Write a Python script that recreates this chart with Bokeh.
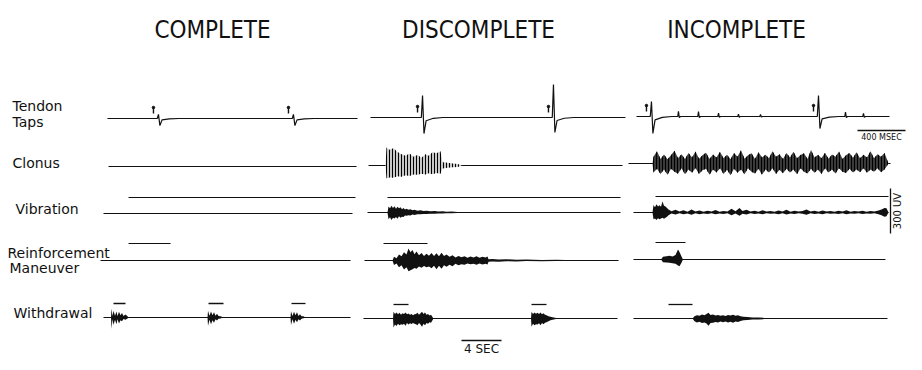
import math
from bokeh.plotting import figure
from bokeh.models import Range1d, Label
from bokeh.embed import file_html
from bokeh.resources import INLINE

# ------------------------------------------------------------------ data
COLUMNS = ["COMPLETE", "DISCOMPLETE", "INCOMPLETE"]
ROW_LABELS = [["Tendon", "Taps"], ["Clonus"], ["Vibration"],
              ["Reinforcement", "Maneuver"], ["Withdrawal"]]

# Tendon taps (fast sweep: ms / microvolts)
TAP_TRACE_MS = [(8, 2092), (33, 2158), (33, 2142)]
TAP_TIMES_MS = [[433, 1558], [467, 1558], [158, 1550]]
TAP_UP_UV = [[27, 27], [147, 220], [100, 140]]
TAP_DOWN_UV = [[47, 47], [107, 100], [113, 80]]
REFLEX_TIMES_MS = [383, 550, 717, 883, 1067, 1775, 1925]
REFLEX_UP_UV = [35, 33, 22, 15, 13, 30, 20]
REFLEX_DOWN_UV = [8, 8, 6, 5, 4, 8, 6]

# Slow sweep rows (seconds / microvolts)
CLONUS_TRACE_S = [(0.2, 25.0), (0.2, 25.6), (-0.4, 25.8)]
VIB_TRACE_S = [(-0.3, 24.6), (0.1, 25.4), (0.1, 25.6)]
VIB_STIM_S = [(2.2, 24.9), (2.1, 25.4), (2.3, 25.6)]
REIN_TRACE_S = [(-0.6, 24.4), (-0.2, 25.2), (0.1, 25.3)]
REIN_STIM_S = [(2.2, 6.4), (1.7, 6.1), (2.3, 5.3)]
WD_TRACE_S = [(-0.3, 24.4), (-0.3, 25.1), (0.1, 25.5)]
WD_STIM_S = [[(0.7, 1.9), (10.2, 11.7), (18.5, 19.9)],
             [(2.7, 4.2), (16.5, 18.0)],
             [(3.6, 6.0)]]

CLONUS2_T = [1.9, 2.0, 2.3, 2.7, 3.1, 3.5, 3.9, 4.3, 4.7, 5.1, 5.5, 5.9, 6.2, 6.6, 7.0, 7.4, 7.6, 8.1, 8.6, 9.1, 9.6]
CLONUS2_UP = [0, 120, 105, 115, 90, 75, 65, 80, 58, 70, 52, 75, 65, 88, 82, 95, 22, 18, 14, 10, 0]
CLONUS2_DN = [0, 85, 80, 82, 72, 75, 65, 70, 60, 62, 55, 60, 52, 58, 50, 55, 20, 15, 12, 10, 0]

CLONUS3_T = [2.0, 2.1, 2.45, 2.8, 3.15, 3.5, 3.85, 4.2, 4.55, 4.9,
             5.25, 5.6, 5.95, 6.3, 6.65, 7.0, 7.35, 7.7, 8.05, 8.4,
             8.75, 9.1, 9.45, 9.8, 10.15, 10.5, 10.85, 11.2, 11.55, 11.9,
             12.25, 12.6, 12.95, 13.3, 13.65, 14.0, 14.35, 14.7, 15.05, 15.4,
             15.75, 16.1, 16.45, 16.8, 17.15, 17.5, 17.85, 18.2, 18.55, 18.9,
             19.25, 19.6, 19.95, 20.3, 20.65, 21.0, 21.35, 21.7, 22.05, 22.4,
             22.75, 23.1, 23.45, 23.8, 24.15, 24.5, 24.85, 25.2, 25.6]
CLONUS3_UP = [0, 45, 82, 30, 60, 28, 55, 85, 35, 62,
              30, 70, 40, 80, 32, 55, 72, 30, 60, 40,
              78, 35, 58, 28, 70, 45, 88, 32, 55, 68,
              30, 75, 40, 58, 35, 82, 45, 62, 30, 70,
              40, 78, 35, 56, 68, 30, 90, 40, 58, 35,
              72, 32, 60, 45, 80, 30, 55, 70, 38, 75,
              35, 58, 40, 82, 35, 62, 45, 70, 0]
CLONUS3_DN = [0, 60, 35, 70, 40, 75, 35, 55, 68, 32,
              72, 40, 62, 30, 70, 45, 35, 75, 40, 60,
              32, 70, 42, 78, 35, 62, 40, 72, 32, 55,
              66, 35, 75, 40, 60, 32, 70, 42, 65, 35,
              60, 40, 72, 32, 55, 66, 35, 62, 40, 70,
              32, 60, 40, 66, 32, 55, 64, 35, 60, 40,
              58, 32, 62, 40, 55, 32, 58, 40, 0]

VIB2_T = [2.1, 2.2, 2.35, 2.5, 2.65, 2.8, 2.95, 3.1, 3.25, 3.4,
          3.55, 3.7, 3.85, 4.0, 4.2, 4.4, 4.6, 4.8, 5.1, 5.4,
          5.7, 6.0, 6.4, 6.8, 7.2, 7.6, 8.0, 8.5, 9.1, 9.9]
VIB2_UP = [0, 40, 28, 45, 30, 42, 25, 38, 28, 35,
           22, 30, 20, 25, 18, 22, 15, 18, 12, 15,
           10, 12, 8, 10, 6, 8, 5, 6, 4, 0]
VIB2_DN = [0, 45, 32, 50, 35, 40, 30, 42, 25, 35,
           28, 30, 20, 22, 18, 20, 14, 16, 12, 12,
           10, 10, 8, 8, 6, 6, 5, 5, 4, 0]

VIB3_T = [2.0, 2.1, 2.25, 2.4, 2.55, 2.7, 2.85, 3.0, 3.15, 3.3, 3.45, 3.6,
          3.9, 4.3, 4.7, 5.1, 5.5, 5.9, 6.3, 6.7, 7.1, 7.5,
          7.9, 8.3, 8.7, 9.1, 9.5, 9.9, 10.3, 10.7, 11.0, 11.4,
          11.8, 12.2, 12.6, 13.0, 13.4, 13.8, 14.2, 14.6, 15.0, 15.4,
          15.8, 16.2, 16.6, 17.0, 17.4, 17.8, 18.2, 18.6, 19.0, 19.4,
          19.8, 20.2, 20.6, 21.0, 21.4, 21.8, 22.2, 22.6, 23.0, 23.4,
          23.8, 24.2, 24.6, 24.9, 25.2, 25.4, 25.6]
VIB3_UP = [0, 50, 35, 55, 40, 48, 38, 73, 45, 40, 30, 20,
           8, 18, 6, 15, 5, 20, 7, 14, 5, 12,
           6, 16, 5, 10, 6, 25, 8, 30, 10, 18,
           6, 12, 5, 15, 6, 10, 5, 14, 6, 18,
           5, 12, 6, 10, 20, 6, 12, 5, 14, 6,
           10, 5, 12, 6, 15, 5, 10, 6, 12, 5,
           10, 6, 14, 20, 30, 28, 0]
VIB3_DN = [0, 45, 40, 50, 38, 45, 40, 35, 42, 35, 28, 18,
           6, 14, 5, 12, 6, 15, 5, 12, 6, 10,
           5, 12, 6, 10, 5, 18, 6, 22, 8, 14,
           5, 10, 6, 12, 5, 8, 6, 12, 5, 14,
           6, 10, 5, 8, 15, 5, 10, 6, 12, 5,
           8, 6, 10, 5, 12, 6, 8, 5, 10, 6,
           8, 5, 12, 18, 28, 25, 0]

REIN2_T = [2.6, 2.75, 3.0, 3.25, 3.5, 3.75, 4.0, 4.2, 4.4, 4.6,
           4.8, 5.0, 5.25, 5.5, 5.75, 6.0, 6.25, 6.5, 6.75, 7.0,
           7.25, 7.5, 7.75, 8.0, 8.3, 8.6, 8.9, 9.2, 9.5, 9.8,
           10.1, 10.4, 10.7, 11.0, 11.3, 11.6, 11.9, 12.1, 12.2, 12.6,
           13.2, 14.0, 15.0, 16.0, 17.5, 19.0, 21.5]
REIN2_UP = [0, 25, 15, 40, 28, 55, 40, 80, 55, 70,
            42, 60, 35, 50, 30, 45, 32, 50, 30, 48,
            28, 52, 30, 40, 25, 35, 20, 30, 22, 28,
            18, 26, 20, 28, 18, 25, 20, 26, 8, 10,
            6, 8, 5, 6, 4, 5, 0]
REIN2_DN = [0, 30, 20, 45, 32, 60, 45, 72, 65, 58,
            50, 55, 40, 48, 36, 45, 40, 52, 35, 58,
            35, 55, 32, 42, 28, 38, 22, 32, 25, 28,
            20, 25, 22, 28, 20, 26, 22, 26, 8, 7,
            8, 5, 6, 4, 5, 3, 0]

REIN3_T = [2.85, 3.05, 3.4, 3.7, 4.0, 4.3, 4.55, 4.7, 4.9, 5.05]
REIN3_UP = [0, 18, 22, 25, 20, 30, 67, 50, 20, 0]
REIN3_DN = [0, 18, 20, 22, 25, 28, 40, 45, 22, 0]

WD1A_T = [0.45, 0.5, 0.6, 0.7, 0.85, 1.0, 1.1, 1.25, 1.4, 1.55, 1.7, 1.9, 2.1, 2.2]
WD1A_UP = [0, 60, 10, 45, 12, 40, 10, 38, 15, 30, 10, 20, 8, 0]
WD1A_DN = [0, 75, 12, 50, 15, 45, 12, 40, 18, 25, 10, 15, 6, 0]
WD1B_T = [10.1, 10.15, 10.3, 10.45, 10.6, 10.75, 10.9, 11.05, 11.2, 11.4, 11.7]
WD1B_UP = [0, 45, 12, 40, 15, 35, 12, 25, 10, 8, 0]
WD1B_DN = [0, 55, 15, 45, 18, 35, 12, 20, 8, 6, 0]
WD1C_T = [18.4, 18.45, 18.6, 18.75, 18.9, 19.05, 19.2, 19.35, 19.5, 19.7, 19.9]
WD1C_UP = [0, 42, 10, 38, 15, 35, 10, 22, 8, 8, 0]
WD1C_DN = [0, 50, 12, 42, 15, 32, 12, 20, 8, 5, 0]

WD2A_T = [2.65, 2.7, 2.85, 3.0, 3.15, 3.3, 3.45, 3.6, 3.75, 3.9,
          4.05, 4.2, 4.35, 4.5, 4.65, 4.8, 4.95, 5.1, 5.25, 5.4,
          5.55, 5.7, 5.85, 6.0, 6.15, 6.3, 6.45, 6.6, 6.7]
WD2A_UP = [0, 45, 30, 40, 28, 38, 25, 35, 30, 40,
           28, 33, 25, 30, 22, 28, 30, 38, 25, 35,
           45, 30, 40, 25, 30, 20, 25, 10, 0]
WD2A_DN = [0, 60, 40, 50, 35, 45, 38, 42, 35, 48,
           30, 40, 32, 36, 30, 35, 38, 45, 30, 40,
           55, 35, 45, 30, 35, 25, 28, 12, 0]
WD2B_T = [16.45, 16.5, 16.65, 16.8, 16.95, 17.1, 17.25, 17.4, 17.55, 17.7,
          17.85, 18.0, 18.2, 18.4, 18.6, 18.85, 19.1]
WD2B_UP = [0, 45, 30, 40, 32, 38, 30, 40, 28, 35, 25, 22, 15, 12, 8, 5, 0]
WD2B_DN = [0, 55, 35, 45, 38, 40, 32, 45, 30, 38, 28, 25, 18, 12, 8, 5, 0]

WD3_T = [6.0, 6.2, 6.45, 6.7, 6.95, 7.2, 7.4, 7.6, 7.8, 8.05, 8.3, 8.55,
         8.8, 9.05, 9.3, 9.55, 9.8, 10.05, 10.3, 10.55, 10.8, 11.1, 11.5,
         12.0, 12.6, 13.2, 13.7]
WD3_UP = [0, 15, 22, 18, 26, 22, 30, 38, 24, 26, 20, 24,
          18, 22, 17, 24, 20, 25, 18, 22, 15, 12, 10,
          7, 6, 4, 0]
WD3_DN = [0, 18, 26, 22, 30, 26, 34, 48, 30, 28, 24, 27,
          20, 25, 20, 27, 22, 28, 20, 24, 16, 12, 10,
          7, 6, 4, 0]

SCALE_TIME_MS = 400
SCALE_AMP_UV = 300
SCALE_SLOW_S = 4

# ------------------------------------------------------------------ layout
W, H = 906, 354
X0 = [106, 366, 632]          # column origins (px)
PX_PER_S = 10.0
PX_PER_MS = 48.0 / 400.0
PX_PER_UV = 45.0 / 300.0
Y_TAP = [118, 117, 116]
Y_CLONUS = [166, 165, 163]
Y_VIB = [213, 212, 212]
Y_VIB_STIM = [197, 197, 196]
Y_REIN = [260, 260, 259]
Y_REIN_STIM = [243, 243, 242]
Y_WD = [317, 318, 318]
Y_WD_STIM = [303, 304, 304]
FONT = "DejaVu Sans"
TITLE_FONT = "DejaVu Sans Condensed, DejaVu Sans"
INK = "#111111"

p = figure(width=W, height=H, x_range=Range1d(0, W), y_range=Range1d(H, 0),
           output_backend="svg", toolbar_location=None, min_border=0,
           x_axis_type=None, y_axis_type=None)
p.grid.visible = False
p.outline_line_color = None
p.background_fill_color = "white"
p.border_fill_color = "white"


def sx(col, t):
    return X0[col] + t * PX_PER_S


def mx(col, t):
    return X0[col] + t * PX_PER_MS


def hline(col, y, span, fx=sx, width=1.2):
    p.line([fx(col, span[0]), fx(col, span[1])], [y, y], line_color=INK, line_width=width)


def burst(col, y, ts, up, dn, hatch=False, fill=INK):
    xs = [sx(col, t) for t in ts]
    y1 = [y - u * PX_PER_UV for u in up]
    y2 = [y + d * PX_PER_UV for d in dn]
    if hatch:
        p.varea(x=xs, y1=y1, y2=y2, fill_color=fill, fill_alpha=1.0,
                hatch_pattern="|", hatch_color="black", hatch_scale=3, hatch_weight=1)
    else:
        p.varea(x=xs, y1=y1, y2=y2, fill_color=fill)


# ---- tendon taps (shape templates: ms offset, fraction of up, fraction of down)
BIG = [(-10, 0, 0), (0, 1, 0), (12, 0, -1), (30, 0, -0.2), (90, 0, -0.05), (170, 0, 0)]
SMALL = [(-6, 0, 0), (0, 1, 0), (7, 0, -1), (16, 0, 0)]
for c in range(3):
    ev = []
    for t, a, b in zip(TAP_TIMES_MS[c], TAP_UP_UV[c], TAP_DOWN_UV[c]):
        ev.append((t, a, b, BIG))
    if c == 2:
        for t, a, b in zip(REFLEX_TIMES_MS, REFLEX_UP_UV, REFLEX_DOWN_UV):
            ev.append((t, a, b, SMALL))
    ev.sort(key=lambda e: e[0])
    pts = [(TAP_TRACE_MS[c][0], 0.0)]
    for t, a, b, tpl in ev:
        for dt, fa, fb in tpl:
            pts.append((t + dt, fa * a + fb * b))
    pts.append((TAP_TRACE_MS[c][1], 0.0))
    xs = [mx(c, t) for t, v in pts]
    ys = [Y_TAP[c] - v * PX_PER_UV for t, v in pts]
    p.line(xs, ys, line_color=INK, line_width=1.2)
    for t in TAP_TIMES_MS[c]:
        xm = mx(c, t) - 5
        p.segment(x0=[xm], y0=[Y_TAP[c] - 11], x1=[xm], y1=[Y_TAP[c] - 5], line_color=INK, line_width=1.4)
        p.scatter(x=[xm], y=[Y_TAP[c] - 11], size=2.5, color=INK)

# ---- clonus
for c in range(3):
    hline(c, Y_CLONUS[c], CLONUS_TRACE_S[c])
burst(1, Y_CLONUS[1], CLONUS2_T, CLONUS2_UP, CLONUS2_DN, hatch=True, fill="#c8c8c8")
burst(2, Y_CLONUS[2], CLONUS3_T, CLONUS3_UP, CLONUS3_DN, hatch=True, fill="#3a3a3a")

# ---- vibration
for c in range(3):
    hline(c, Y_VIB[c], VIB_TRACE_S[c])
    hline(c, Y_VIB_STIM[c], VIB_STIM_S[c], width=1.0)
burst(1, Y_VIB[1], VIB2_T, VIB2_UP, VIB2_DN)
burst(2, Y_VIB[2], VIB3_T, VIB3_UP, VIB3_DN)

# ---- reinforcement
for c in range(3):
    hline(c, Y_REIN[c], REIN_TRACE_S[c])
    hline(c, Y_REIN_STIM[c], REIN_STIM_S[c], width=1.0)
burst(1, Y_REIN[1], REIN2_T, REIN2_UP, REIN2_DN)
burst(2, Y_REIN[2], REIN3_T, REIN3_UP, REIN3_DN)

# ---- withdrawal
for c in range(3):
    hline(c, Y_WD[c], WD_TRACE_S[c])
    for span in WD_STIM_S[c]:
        hline(c, Y_WD_STIM[c], span, width=1.3)
for ts, up, dn in [(WD1A_T, WD1A_UP, WD1A_DN), (WD1B_T, WD1B_UP, WD1B_DN), (WD1C_T, WD1C_UP, WD1C_DN)]:
    burst(0, Y_WD[0], ts, up, dn)
for ts, up, dn in [(WD2A_T, WD2A_UP, WD2A_DN), (WD2B_T, WD2B_UP, WD2B_DN)]:
    burst(1, Y_WD[1], ts, up, dn)
burst(2, Y_WD[2], WD3_T, WD3_UP, WD3_DN)

# ---- titles
TITLE_X = [212, 478, 736]
for x, t in zip(TITLE_X, COLUMNS):
    p.add_layout(Label(x=x, y=29, text=t, text_font=TITLE_FONT, text_font_size="24px",
                       text_align="center", text_baseline="middle", text_color=INK))

# ---- row labels
LABEL_POS = [[(12, 105), (12, 121)], [(12, 162)], [(15, 208)], [(7, 252), (9, 267)], [(13, 312)]]
for lines, pos in zip(ROW_LABELS, LABEL_POS):
    for txt, (x, y) in zip(lines, pos):
        p.add_layout(Label(x=x, y=y, text=txt, text_font=FONT, text_font_size="14px",
                           text_align="left", text_baseline="middle", text_color=INK))

# ---- scale bars
xb0 = 857
p.line([xb0, xb0 + SCALE_TIME_MS * PX_PER_MS], [130, 130], line_color=INK, line_width=1.3)
p.add_layout(Label(x=xb0 + SCALE_TIME_MS * PX_PER_MS / 2, y=137, text="%d MSEC" % SCALE_TIME_MS,
                   text_font=FONT, text_font_size="8px", text_align="center",
                   text_baseline="middle", text_color=INK))
yb0 = 233
p.line([890, 890], [yb0, yb0 - SCALE_AMP_UV * PX_PER_UV], line_color=INK, line_width=1.3)
p.add_layout(Label(x=897, y=yb0 - SCALE_AMP_UV * PX_PER_UV / 2, text="%d UV" % SCALE_AMP_UV,
                   text_font=FONT, text_font_size="10px", text_align="center",
                   text_baseline="middle", angle=math.pi / 2, text_color=INK))
xs0 = 461
p.line([xs0, xs0 + SCALE_SLOW_S * PX_PER_S], [340, 340], line_color=INK, line_width=1.3)
p.add_layout(Label(x=xs0 + SCALE_SLOW_S * PX_PER_S / 2, y=348, text="%d SEC" % SCALE_SLOW_S,
                   text_font=FONT, text_font_size="12px", text_align="center",
                   text_baseline="middle", text_color=INK))

open("out.html", "w").write(file_html(p, INLINE))
